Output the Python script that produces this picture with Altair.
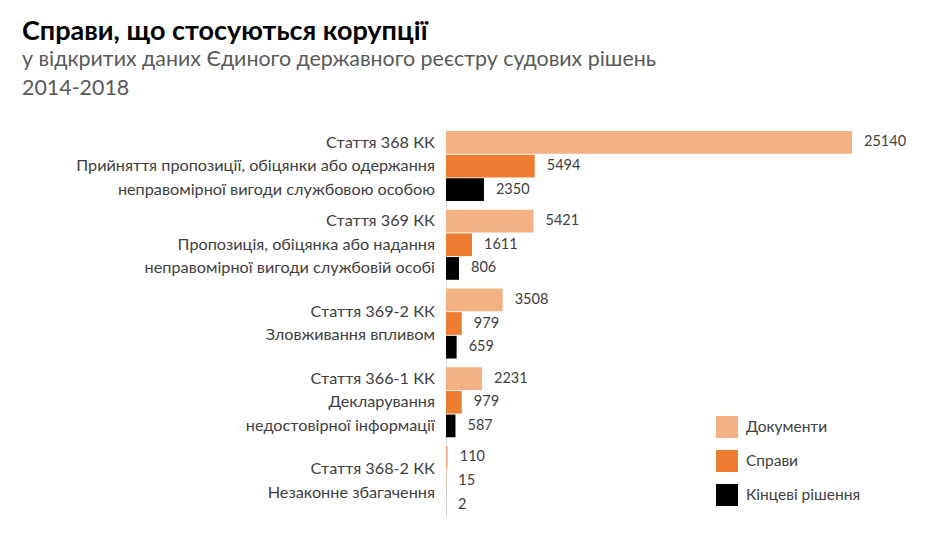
import altair as alt
import pandas as pd

# ---- data ----
groups = [
    "Стаття 368 КК\nПрийняття пропозиції,  обіцянки або одержання \nнеправомірної вигоди службовою особою",
    "Стаття 369 КК\nПропозиція, обіцянка або надання \nнеправомірної вигоди службовій особі",
    "Стаття 369-2 КК\nЗловживання впливом",
    "Стаття 366-1 КК\nДекларування \nнедостовірної інформації",
    "Стаття 368-2 КК\nНезаконне збагачення",
]
series = ["Документи", "Справи", "Кінцеві рішення"]
documents = [25140, 5421, 3508, 2231, 110]
cases = [5494, 1611, 979, 979, 15]
final_decisions = [2350, 806, 659, 587, 2]
colors = ["#F4B183", "#ED7D31", "#000000"]

title_text = "Справи, що стосуються корупції"
subtitle_1 = "у відкритих даних Єдиного державного реєстру судових рішень"
subtitle_2 = "2014-2018"

rows = []
for i, g in enumerate(groups):
    for s, vals in zip(series, [documents, cases, final_decisions]):
        rows.append({"group": g, "series": s, "value": vals[i]})
df = pd.DataFrame(rows)
gdf = pd.DataFrame({"group": groups})

FONT = "Lato"
LINE_H = 23.5

yenc = alt.Y(
    "group:N",
    sort=groups,
    scale=alt.Scale(paddingInner=0.11, paddingOuter=0),
    axis=alt.Axis(
        title=None,
        labels=False,
        ticks=False,
        domain=True,
        domainColor="#D9D9D9",
        domainWidth=1,
    ),
)

base = alt.Chart(df).encode(
    y=yenc,
    yOffset=alt.YOffset(
        "series:N", sort=series, scale=alt.Scale(paddingInner=0.04, paddingOuter=0)
    ),
    x=alt.X("value:Q", scale=alt.Scale(domain=[0, documents[0]], nice=False), axis=None),
)

bars = base.mark_bar().encode(
    color=alt.Color(
        "series:N",
        sort=series,
        scale=alt.Scale(domain=series, range=colors),
        legend=alt.Legend(
            title=None,
            orient="none",
            legendX=270,
            legendY=285,
            symbolType="square",
            symbolSize=484,
            symbolStrokeWidth=0,
            symbolOpacity=1,
            labelFontSize=15.5,
            labelFont=FONT,
            labelColor="#404040",
            rowPadding=12,
            labelOffset=8,
        ),
    )
)

labels = base.mark_text(
    align="left", baseline="middle", dx=12, fontSize=14.5, color="#404040", font=FONT
).encode(text="value:Q")

cat_labels = (
    alt.Chart(gdf)
    .transform_calculate(lines="split(datum.group, '\\n')")
    .transform_calculate(n="length(datum.lines)")
    .mark_text(
        align="right",
        baseline="middle",
        fontSize=16.25,
        color="#404040",
        font=FONT,
        lineHeight=LINE_H,
        dy=alt.expr(f"-(datum.n - 1) * {LINE_H / 2}"),
    )
    .encode(y=yenc, x=alt.value(-11), text="lines:N")
)

tdf = pd.DataFrame({"a": [0]})
title = alt.Chart(tdf).mark_text(
    align="left", baseline="middle", fontSize=27, fontWeight="bold", color="#000000", font=FONT
).encode(x=alt.value(-424), y=alt.value(-99), text=alt.value(title_text))
sub1 = alt.Chart(tdf).mark_text(
    align="left", baseline="middle", fontSize=21.4, color="#595959", font=FONT
).encode(x=alt.value(-424), y=alt.value(-71), text=alt.value(subtitle_1))
sub2 = alt.Chart(tdf).mark_text(
    align="left", baseline="middle", fontSize=21.4, color="#595959", font=FONT
).encode(x=alt.value(-424), y=alt.value(-42), text=alt.value(subtitle_2))

chart = (
    alt.layer(bars, labels, cat_labels, title, sub1, sub2)
    .properties(
        width=406,
        height=385,
        autosize=alt.AutoSizeParams(type="none"),
        padding={"left": 438, "top": 123, "right": 80, "bottom": 10},
        background="white",
    )
    .configure_view(stroke=None)
)

chart.save("out.html", embed_options={"renderer": "svg", "actions": False})
